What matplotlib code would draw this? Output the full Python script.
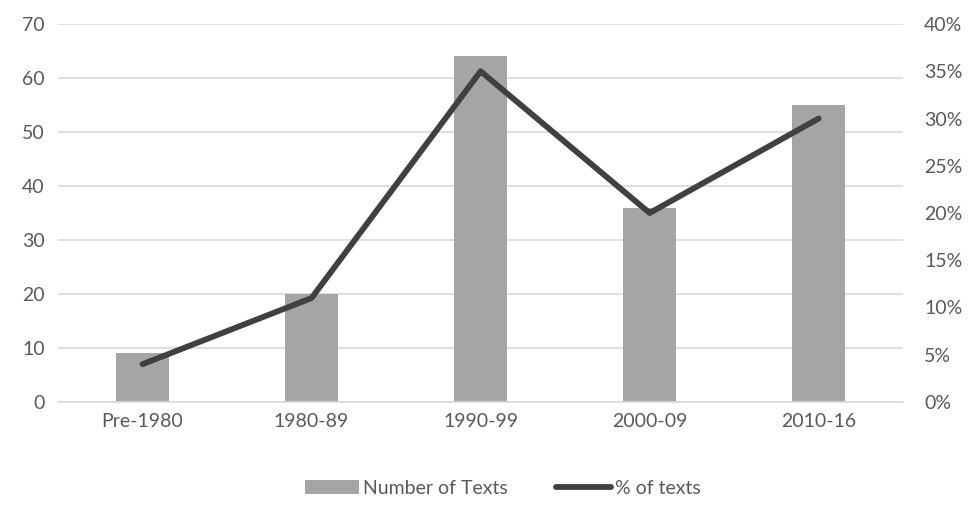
import numpy as np
import matplotlib.pyplot as plt
from matplotlib.ticker import PercentFormatter

categories = ['Pre-1980', '1980-89', '1990-99', '2000-09', '2010-16']
num_texts = [9, 20, 64, 36, 55]
pct_texts = [0.04, 0.11, 0.35, 0.20, 0.30]

plt.rcParams['font.family'] = ['Lato', 'DejaVu Sans']
txt = '#595959'

fig = plt.figure(figsize=(9.7, 5.13), dpi=100)
ax = fig.add_axes([0.0598, 0.2164, 0.8713, 0.7368])
x = np.arange(len(categories))

ax.bar(x, num_texts, width=0.31, color='#A5A5A5', zorder=2, label='Number of Texts')
ax.set_xlim(-0.5, len(categories) - 0.5)
ax.set_ylim(0, 70)
ax.set_yticks(range(0, 71, 10))
ax.yaxis.grid(True, color='#D9D9D9', linewidth=1.2, zorder=0)
ax.set_axisbelow(True)
ax.set_xticks(x)
ax.set_xticklabels(categories)

ax2 = ax.twinx()
ax2.plot(x, pct_texts, color='#404040', linewidth=4.2, solid_capstyle='round', zorder=3, label='% of texts')
ax2.set_ylim(0, 0.40)
ax2.set_yticks(np.arange(0, 0.41, 0.05))
ax2.yaxis.set_major_formatter(PercentFormatter(1.0, decimals=0))

for a in (ax, ax2):
    for s in a.spines.values():
        s.set_visible(False)
    a.tick_params(length=0, colors=txt, labelsize=14)
ax.spines['bottom'].set_visible(True)
ax.spines['bottom'].set_color('#D9D9D9')
ax.spines['bottom'].set_linewidth(1.2)
ax.tick_params(axis='y', pad=9.5)
ax.tick_params(axis='x', pad=8)
ax2.tick_params(axis='y', pad=15)

h1, l1 = ax.get_legend_handles_labels()
h2, l2 = ax2.get_legend_handles_labels()
fig.legend(h1 + h2, l1 + l2, loc='center', bbox_to_anchor=(0.518, 0.048), ncol=2,
           frameon=False, fontsize=14, labelcolor=txt, handlelength=2.8,
           handletextpad=0.2, columnspacing=2.5)

fig.savefig('out.png', dpi=100)
